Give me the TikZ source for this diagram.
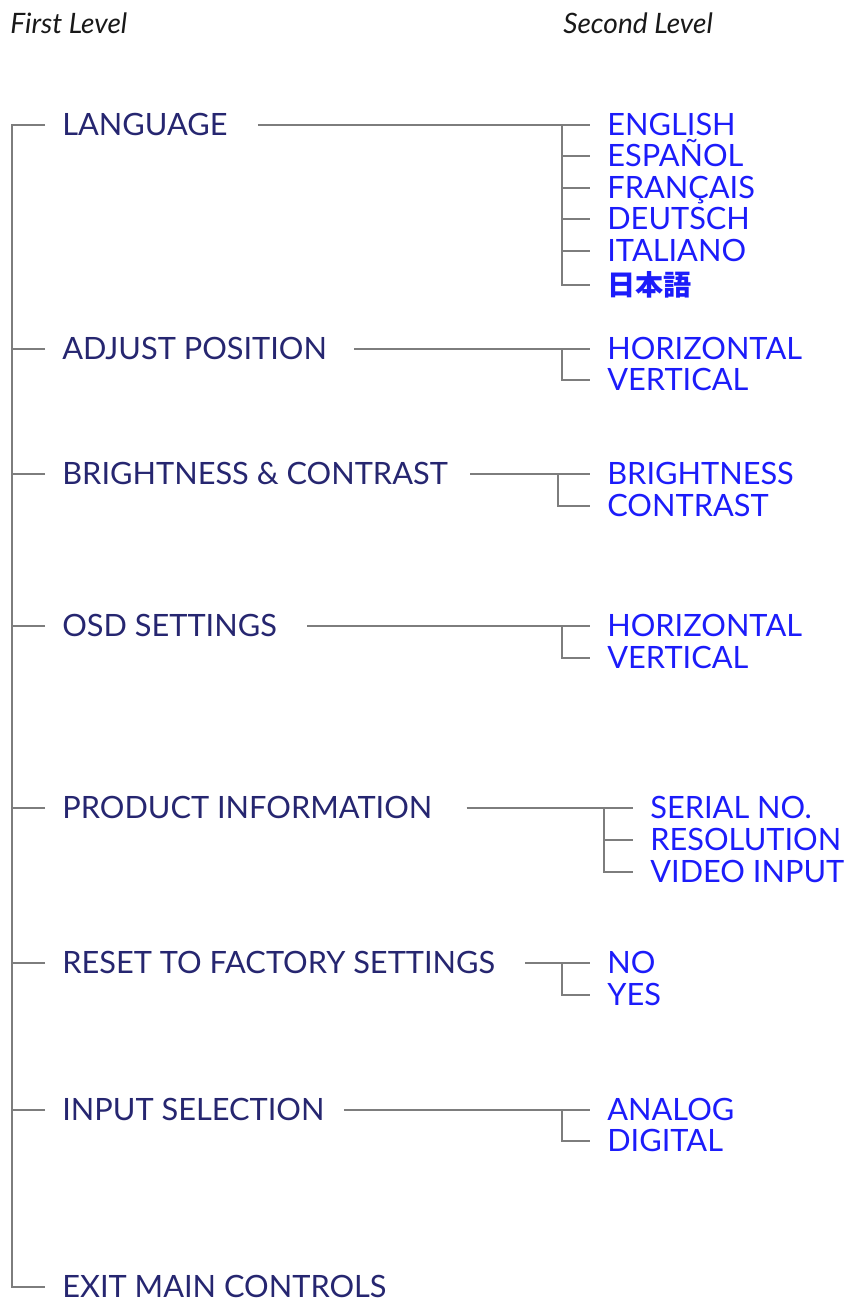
\documentclass[tikz,border=0pt]{standalone}
\usepackage{fontspec}
\setmainfont{Lato}
\newfontfamily\jpfont{Noto Sans CJK JP}
\usetikzlibrary{positioning}

\definecolor{menunavy}{RGB}{38,38,112}
\definecolor{subblue}{RGB}{28,28,250}
\definecolor{linkgray}{RGB}{125,125,125}

\tikzset{
  headline/.style={anchor=base west, inner sep=0pt, font=\fontsize{16}{19}\selectfont\itshape, text=black!90},
  lvlone/.style={anchor=west, inner xsep=0.34cm, inner ysep=0pt, text height=12.5pt, text depth=0pt,
    font=\fontsize{17.5}{20}\selectfont, text=menunavy},
  lvltwo/.style={lvlone, text=subblue},
  link/.style={draw=linkgray, line width=1.1pt},
}

\begin{document}
\begin{tikzpicture}[x=0.02cm, y=-0.02cm]
\useasboundingbox (0,0) rectangle (845,1303);

% headings
\node[headline] (h1) at (10,33) {First Level};
\node[headline] (h2) at (563,33) {Second Level};

% first level
\node[lvlone] (lang)  at (45,125)  {LANGUAGE};
\node[lvlone] (adj)   at (45,349)  {ADJUST POSITION};
\node[lvlone] (bc)    at (45,474)  {BRIGHTNESS \& CONTRAST};
\node[lvlone] (osd)   at (45,626)  {OSD SETTINGS};
\node[lvlone] (prod)  at (45,808)  {PRODUCT INFORMATION};
\node[lvlone] (reset) at (45,963)  {RESET TO FACTORY SETTINGS};
\node[lvlone] (input) at (45,1110) {INPUT SELECTION};
\node[lvlone] (exit)  at (45,1287) {EXIT MAIN CONTROLS};

% trunk
\coordinate (top) at (12,125);
\coordinate (bot) at (12,1287);
\draw[link] (lang.west) -- (top) -- (bot) -- (exit.west);
\foreach \n in {adj,bc,osd,prod,reset,input}
  \draw[link] (\n.west) -- (\n.west -| top);

% second level: language
\node[lvltwo] (en) at (590,125) {ENGLISH};
\node[lvltwo] (es) at (590,156) {ESPAÑOL};
\node[lvltwo] (fr) at (590,188) {FRANÇAIS};
\node[lvltwo] (de) at (590,219) {DEUTSCH};
\node[lvltwo] (it) at (590,251) {ITALIANO};
\node[lvltwo, font=\jpfont\bfseries\fontsize{16}{18}\selectfont] (ja) at (590,285) {日本語};
\coordinate (langfork) at (562,125);
\draw[link] ([xshift=0.26cm]lang.east) -- (en.west);
\foreach \s in {es,fr,de,it,ja}
  \draw[link] (langfork) |- (\s.west);

% adjust position
\node[lvltwo] (adjh) at (590,349) {HORIZONTAL};
\node[lvltwo] (adjv) at (590,380) {VERTICAL};
\draw[link] ([xshift=0.2cm]adj.east) -- (adjh.west);
\draw[link] (562,349) |- (adjv.west);

% brightness & contrast
\node[lvltwo] (bri) at (590,474) {BRIGHTNESS};
\node[lvltwo] (con) at (590,506) {CONTRAST};
\draw[link] ([xshift=0.1cm]bc.east) -- (bri.west);
\draw[link] (558,474) |- (con.west);

% osd settings
\node[lvltwo] (osdh) at (590,626) {HORIZONTAL};
\node[lvltwo] (osdv) at (590,658) {VERTICAL};
\draw[link] ([xshift=0.26cm]osd.east) -- (osdh.west);
\draw[link] (562,626) |- (osdv.west);

% product information
\node[lvltwo] (ser) at (633,808) {SERIAL NO.};
\node[lvltwo] (res) at (633,840) {RESOLUTION};
\node[lvltwo] (vid) at (633,872) {VIDEO INPUT};
\draw[link] ([xshift=0.34cm]prod.east) -- (ser.west);
\foreach \s in {res,vid}
  \draw[link] (604,808) |- (\s.west);

% reset
\node[lvltwo] (no)  at (590,963) {NO};
\node[lvltwo] (yes) at (590,995) {YES};
\draw[link] ([xshift=0.26cm]reset.east) -- (no.west);
\draw[link] (562,963) |- (yes.west);

% input selection
\node[lvltwo] (ana) at (590,1110) {ANALOG};
\node[lvltwo] (dig) at (590,1141) {DIGITAL};
\draw[link] ([xshift=0.04cm]input.east) -- (ana.west);
\draw[link] (562,1110) |- (dig.west);
\end{tikzpicture}
\end{document}
